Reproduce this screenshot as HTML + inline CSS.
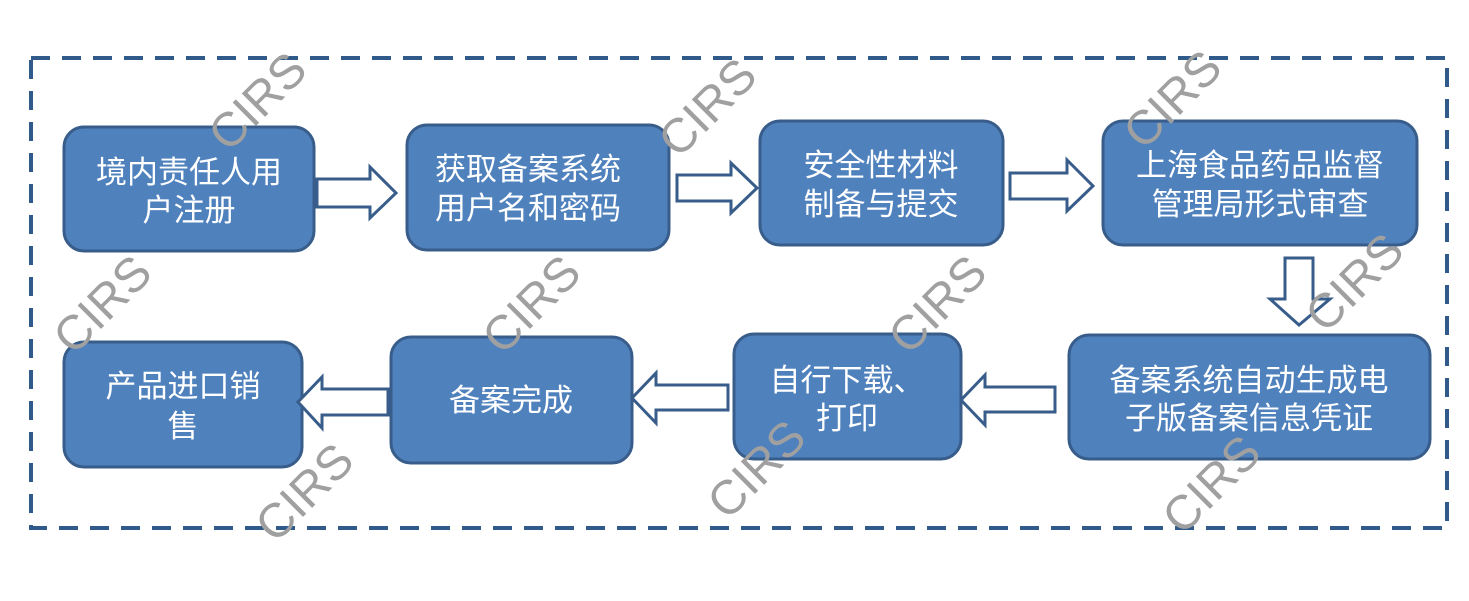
<!DOCTYPE html>
<html><head><meta charset="utf-8"><style>
html,body{margin:0;padding:0;background:#fff;}
svg{display:block;}
.b{fill:#4f81bd;stroke:#385d8a;stroke-width:3;}
.t{fill:#fff;font-family:"Liberation Sans","Noto Sans CJK SC",sans-serif;font-size:31px;text-anchor:middle;}
.a{fill:#fff;stroke:#385d8a;stroke-width:3;stroke-linejoin:miter;}
.w{fill:#a0a0a0;font-family:"Liberation Sans",sans-serif;font-size:48px;text-anchor:middle;dominant-baseline:central;}
</style></head><body>
<svg width="1469" height="601" viewBox="0 0 1469 601" xmlns="http://www.w3.org/2000/svg">
<rect x="31" y="58" width="1416" height="470" fill="none" stroke="#2f5a8a" stroke-width="4" stroke-dasharray="19,12"/>

<rect class="b" x="64" y="127" width="250" height="124" rx="20"/>
<rect class="b" x="407" y="125" width="262" height="125" rx="20"/>
<rect class="b" x="760" y="121" width="243" height="124" rx="20"/>
<rect class="b" x="1103" y="121" width="314" height="124" rx="20"/>
<rect class="b" x="1069" y="335" width="361" height="124" rx="20"/>
<rect class="b" x="734" y="334" width="227" height="125" rx="20"/>
<rect class="b" x="391" y="337" width="241" height="126" rx="20"/>
<rect class="b" x="64" y="342" width="238" height="125" rx="20"/>

<text class="t" x="189" y="183">境内责任人用</text><text class="t" x="189" y="221">户注册</text>
<text class="t" x="528" y="180">获取备案系统</text><text class="t" x="528" y="219">用户名和密码</text>
<text class="t" x="881" y="176">安全性材料</text><text class="t" x="881" y="215">制备与提交</text>
<text class="t" x="1260" y="176">上海食品药品监督</text><text class="t" x="1260" y="215">管理局形式审查</text>
<text class="t" x="1249" y="391">备案系统自动生成电</text><text class="t" x="1249" y="429">子版备案信息凭证</text>
<text class="t" x="847" y="391">自行下载、</text><text class="t" x="847" y="429">打印</text>
<text class="t" x="511" y="411">备案完成</text>
<text class="t" x="183" y="397">产品进口销</text><text class="t" x="183" y="437">售</text>

<polygon class="a" points="317,179 370,179 370,167 396,193 370,218 370,207 317,207"/>
<polygon class="a" points="677,175 731,175 731,163 757,188 731,213 731,201 677,201"/>
<polygon class="a" points="1010,173 1067,173 1067,160 1093,186 1067,211 1067,199 1010,199"/>
<polygon class="a" points="1285,258 1313,258 1313,299 1330,299 1299,325 1270,299 1285,299"/>
<polygon class="a" points="1055,387 985,387 985,375 961,400 985,425 985,412 1055,412"/>
<polygon class="a" points="728,385 656,385 656,373 632,398 656,423 656,410 728,410"/>
<polygon class="a" points="388,389 322,389 322,377 298,402 322,428 322,415 388,415"/>

<g class="w">
<text x="258" y="102" transform="rotate(-45 258 102)">CIRS</text>
<text x="708" y="108" transform="rotate(-45 708 108)">CIRS</text>
<text x="1173" y="100" transform="rotate(-45 1173 100)">CIRS</text>
<text x="103" y="305" transform="rotate(-45 103 305)">CIRS</text>
<text x="532" y="305" transform="rotate(-45 532 305)">CIRS</text>
<text x="938" y="305" transform="rotate(-45 938 305)">CIRS</text>
<text x="1355" y="283" transform="rotate(-45 1355 283)">CIRS</text>
<text x="1212" y="485" transform="rotate(-45 1212 485)">CIRS</text>
<text x="757" y="470" transform="rotate(-45 757 470)">CIRS</text>
<text x="305" y="493" transform="rotate(-45 305 493)">CIRS</text>
</g>
</svg>
</body></html>
